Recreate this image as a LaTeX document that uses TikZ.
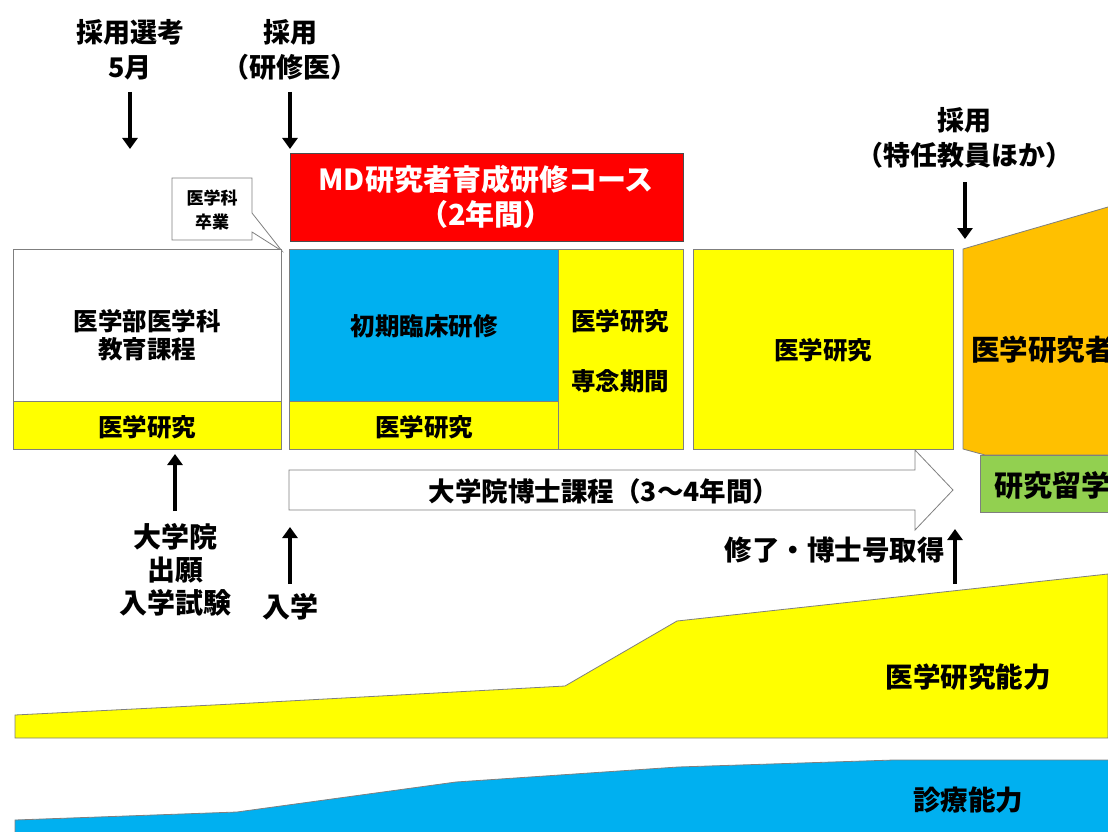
\documentclass[tikz,border=0pt]{standalone}
\usepackage{fontspec}
\setmainfont{Noto Sans CJK JP}
\usetikzlibrary{arrows.meta}
\definecolor{myyellow}{HTML}{FFFF00}
\definecolor{myblue}{HTML}{00B0F0}
\definecolor{myorange}{HTML}{FFC000}
\definecolor{mygreen}{HTML}{92D050}
\definecolor{myred}{HTML}{FF0000}
\definecolor{edge}{HTML}{7F7F7F}
\begin{document}
\begin{tikzpicture}[x=1pt,y=-1pt,
  lbl/.style={font=\bfseries\fontsize{27}{35}\selectfont, align=center, inner sep=0pt},
  mid/.style={font=\bfseries\fontsize{24.5}{28}\selectfont, align=center, inner sep=0pt},
  sml/.style={font=\bfseries\fontsize{17}{24}\selectfont, align=center, inner sep=0pt},
  big/.style={font=\bfseries\fontsize{27.5}{35}\selectfont, align=center, inner sep=0pt},
  boxx/.style={draw=edge, line width=0.8pt, anchor=north west, inner sep=0pt, outer sep=0pt},
  blk/.style={line width=4.5pt, -{Triangle[width=15pt,length=11pt]}},
  area/.style={draw=edge, line width=0.8pt},
]
\useasboundingbox (0,0) rectangle (1108,832);

% ability areas
\path[area, fill=myyellow] (15,738) -- (15,715) -- (233,704) -- (565,686) -- (677,621) -- (1108,574) -- (1108,738) -- cycle;
\path[area, fill=myblue] (15,840) -- (15,820) -- (237,812) -- (456,782) -- (678,767) -- (894,760) -- (1120,760) -- (1120,840) -- cycle;
\node[big] (abil1) at (968,677) {医学研究能力};
\node[big] (abil2) at (968,800) {診療能力};

% red course box
\node[boxx, draw=black!70, fill=myred, minimum width=393pt, minimum height=88pt] (course) at (290,153) {};
\node[big, text=white, font=\bfseries\fontsize{29}{35}\selectfont] (coursetxt) at (486,197) {MD研究者育成研修コース\\（2年間）};

% callout
\path[area, fill=white] (172,178) -- (252,178) -- (252,213) -- (282,251) -- (252,232) -- (252,240) -- (172,240) -- cycle;
\node[sml] (grad) at (212,210) {医学科\\卒業};

% undergraduate
\node[boxx, fill=white, minimum width=268pt, minimum height=152pt] (edu) at (13,249) {};
\node[mid] (edutxt) at (147,335) {医学部医学科\\教育課程};
\node[boxx, fill=myyellow, minimum width=268pt, minimum height=48pt] (edures) at (13,401) {};
\node[mid] (edurestxt) at (147,427) {医学研究};

% initial clinical training
\node[boxx, fill=myblue, minimum width=269pt, minimum height=152pt] (clin) at (289,249) {};
\node[mid] (clintxt) at (424,326) {初期臨床研修};
\node[boxx, fill=myyellow, minimum width=269pt, minimum height=48pt] (clinres) at (289,401) {};
\node[mid] (clinrestxt) at (424,427) {医学研究};

% dedicated
\node[boxx, fill=myyellow, minimum width=125pt, minimum height=200pt] (ded) at (558,249) {};
\node[mid] (dedtxt1) at (620,321) {医学研究};
\node[mid] (dedtxt2) at (620,381) {専念期間};

% research
\node[boxx, fill=myyellow, minimum width=260pt, minimum height=200pt] (res) at (693,249) {};
\node[mid] (restxt) at (823,350) {医学研究};

% researcher
\path[area, fill=myorange] (963,249) -- (1108,207) -- (1120,207) -- (1120,455) -- (985,455) -- (963,449) -- cycle;
\node[big, anchor=west, font=\bfseries\fontsize{28.5}{30}\selectfont] (rsr) at (971,350) {医学研究者};
\path[area, fill=mygreen] (980,455) rectangle (1120,512);
\node[big, anchor=west, font=\bfseries\fontsize{29}{30}\selectfont] (abroad) at (994,486) {研究留学};

% doctoral arrow
\path[area, fill=white] (289,470) -- (915,470) -- (915,450) -- (953,490) -- (915,530) -- (915,510) -- (289,510) -- cycle;
\node[mid, font=\bfseries\fontsize{26.5}{28}\selectfont] (phd) at (604,491) {大学院博士課程（3～4年間）};

% top labels
\node[lbl] (sel) at (130,50) {採用選考\\5月};
\node[lbl] (hire1) at (290,50) {採用\\（研修医）};
\node[lbl] (hire2) at (964,138) {採用\\（特任教員ほか）};
\coordinate (a1s) at (130,92); \coordinate (a1e) at (130,149);
\coordinate (a2s) at (290,92); \coordinate (a2e) at (290,149);
\coordinate (a3s) at (965,182); \coordinate (a3e) at (965,239);
\draw[blk] (a1s) -- (a1e);
\draw[blk] (a2s) -- (a2e);
\draw[blk] (a3s) -- (a3e);

% bottom labels
\node[lbl, font=\bfseries\fontsize{28}{33}\selectfont] (apply) at (175,570) {大学院\\出願\\入学試験};
\node[lbl, font=\bfseries\fontsize{28}{30}\selectfont] (enter) at (290,607) {入学};
\node[lbl, anchor=east, font=\bfseries\fontsize{27.5}{30}\selectfont] (fin) at (945,550) {修了・博士号取得};
\coordinate (b1s) at (175,511); \coordinate (b1e) at (175,454);
\coordinate (b2s) at (290,584); \coordinate (b2e) at (290,527);
\coordinate (b3s) at (955,584); \coordinate (b3e) at (955,529);
\draw[blk] (b1s) -- (b1e);
\draw[blk] (b2s) -- (b2e);
\draw[blk] (b3s) -- (b3e);
\end{tikzpicture}
\end{document}
